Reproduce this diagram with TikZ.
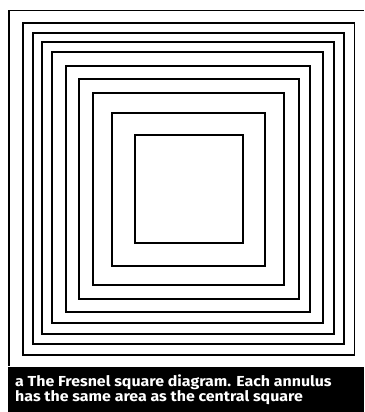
\documentclass[tikz,border=0pt]{standalone}
\usepackage{fontspec}
\setmainfont{Fira Sans}
\begin{document}
\begin{tikzpicture}[x=1pt,y=-1pt,
  sq/.style={draw=black,line width=1.8pt},
  frame/.style={draw=black,line width=1.8pt},
  capbar/.style={fill=black,draw=none},
  captext/.style={text=white,font=\fontsize{14.5}{16.5}\selectfont\bfseries,anchor=base west,inner sep=0pt}]
\useasboundingbox (0,0) rectangle (364,412);
\fill[white] (0,0) rectangle (364,412);
% outer frame
\draw[frame] (9,366) -- (9,10.5) -- (364,10.5);
% Fresnel squares
\draw[sq] (22.7,22.7) rectangle (354.5,355);
\draw[sq] (33.3,32.7) rectangle (343.7,344.3);
\draw[sq] (41.7,42) rectangle (333.7,334.3);
\draw[sq] (51.7,52.3) rectangle (322.7,323.3);
\draw[sq] (66,66) rectangle (310.3,312);
\draw[sq] (79.3,79.3) rectangle (299.3,299.3);
\draw[sq] (93.3,93.3) rectangle (283.7,285);
\draw[sq] (112,112.7) rectangle (265.3,266);
\draw[sq] (135,135) rectangle (243,243.3);
% caption
\fill[capbar] (8,366.5) rectangle (364,412);
\node[captext] (cap1) at (15,386) {\scalebox{1.10}[1]{a The Fresnel square diagram. Each annulus}};
\node[captext] (cap2) at (15,401.5) {\scalebox{1.10}[1]{has the same area as the central square}};
\end{tikzpicture}
\end{document}
